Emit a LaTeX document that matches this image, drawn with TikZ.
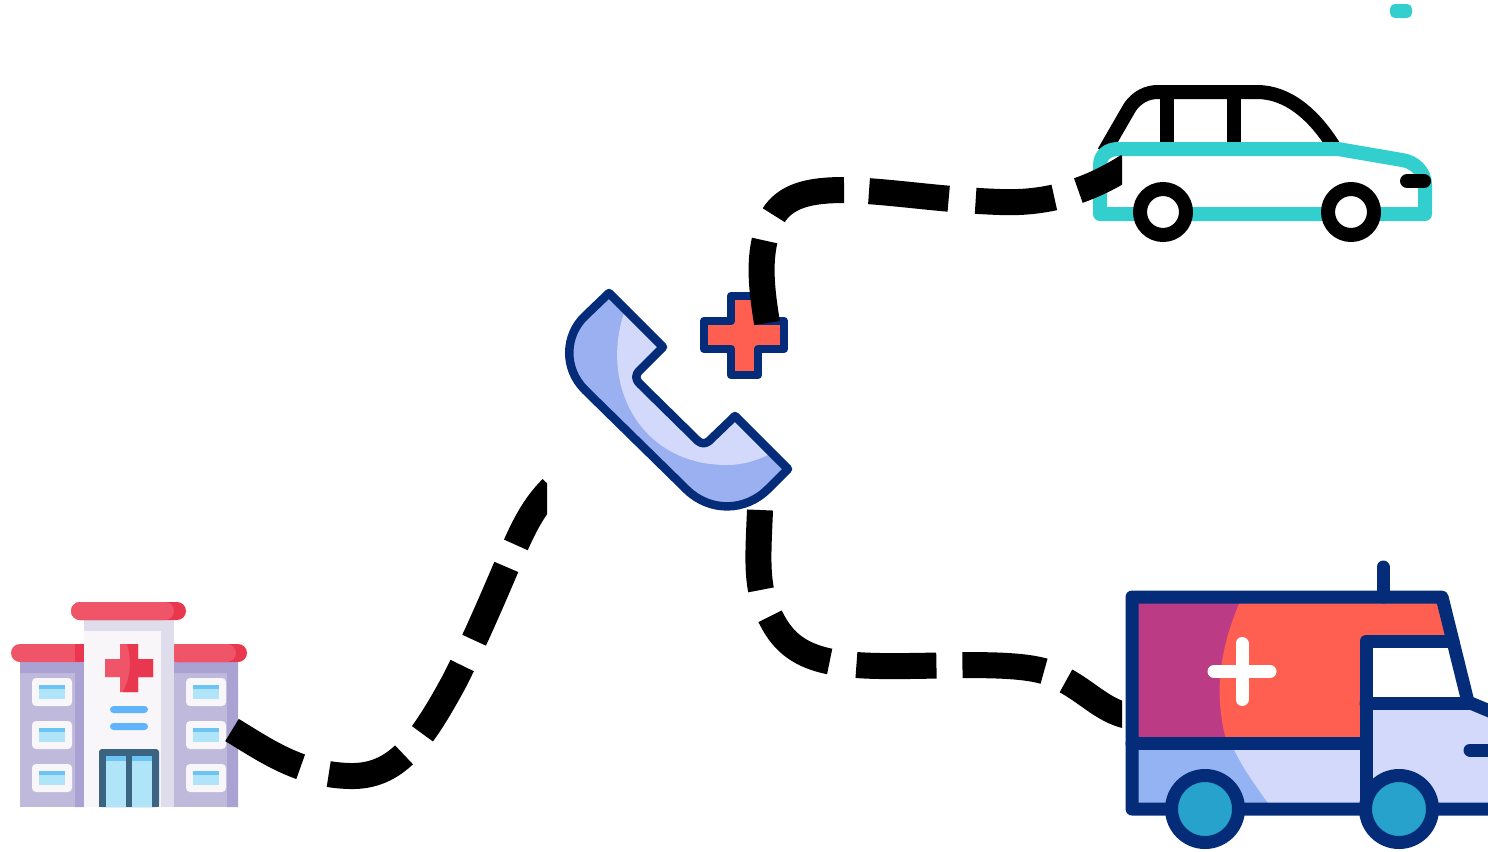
\documentclass[tikz,border=0pt]{standalone}
\definecolor{azulOscuro}{HTML}{042C78}
\definecolor{azulMedio}{HTML}{9BB0F0}
\definecolor{azulBanda}{HTML}{94B3F2}
\definecolor{azulClaro}{HTML}{D3D9FB}
\definecolor{rojoCruz}{HTML}{FF5F50}
\definecolor{magenta}{HTML}{BB3B85}
\definecolor{turquesa}{HTML}{33CFCF}
\definecolor{rueda}{HTML}{27A2CC}
\definecolor{techo}{HTML}{EF5469}
\definecolor{techoOscuro}{HTML}{E8374F}
\definecolor{muro}{HTML}{BFB9DC}
\definecolor{muroOscuro}{HTML}{A9A2D2}
\definecolor{torre}{HTML}{F8F6F8}
\definecolor{torreOscura}{HTML}{DFDCEC}
\definecolor{vidrio}{HTML}{B0E4F9}
\definecolor{vidrioOscuro}{HTML}{6CC4F5}
\definecolor{puerta}{HTML}{3B6382}
\definecolor{franja}{HTML}{60B4FE}
\tikzset{
  conector/.style={draw=black, line width=0.26cm},
  trazoAzul/.style={draw=azulOscuro, line width=0.085cm, line join=round},
  trazoCamion/.style={draw=azulOscuro, line width=0.13cm, line join=round, line cap=round},
  trazoAuto/.style={line width=0.14cm, line join=round},
  ventana/.style={fill=torre, rounded corners=0.04cm}
}
\begin{document}
\begin{tikzpicture}[x=0.01cm, y=-0.01cm]
\useasboundingbox (0,0) rectangle (1488,851);

% Hospital: muros y torre
\fill[muro] (20,662) rectangle (84,807);
\fill[muroOscuro] (20,662) rectangle (84,673) (75,662) rectangle (84,807);
\fill[muro] (174,662) rectangle (238,807);
\fill[muroOscuro] (174,662) rectangle (238,673) (227,662) rectangle (238,807);
\fill[torreOscura] (84,620) rectangle (174,807);
\fill[torre] (84,631) -- (161,631) -- (161,807) -- (84,807) -- cycle;

% Hospital: techos
\fill[techoOscuro, rounded corners=0.09cm] (71,602) rectangle (186,620);
\fill[techo, rounded corners=0.09cm] (71,602) rectangle (174,620);
\fill[techo, rounded corners=0.09cm] (11,644) rectangle (90,662);
\fill[techoOscuro] (75,644) rectangle (84,662);
\fill[torre] (84,644) rectangle (90,662);
\fill[techoOscuro, rounded corners=0.09cm] (168,644) rectangle (247,662);
\fill[techo, rounded corners=0.09cm] (168,644) rectangle (236,662);
\fill[torreOscura] (168,644) rectangle (174,662);

% Hospital: ventanas
\foreach \fila in {678,721,764} {
  \foreach \columna in {32,186} {
    \fill[ventana] (\columna,\fila) rectangle +(40,28);
    \fill[vidrio] (\columna+7,\fila+7) rectangle +(26,14);
    \fill[vidrioOscuro] (\columna+7,\fila+7) rectangle +(26,4);
  }
}

% Hospital: cruz y franjas
\fill[techo, path picture={\fill[techoOscuro] (126,640) .. controls (132,660) and (132,675) .. (121,696) -- (160,696) -- (160,640) -- cycle;}]
  (120,644) -- (138,644) -- (138,659) -- (153,659) -- (153,677) -- (138,677) -- (138,692) -- (120,692) -- (120,677) -- (105,677) -- (105,659) -- (120,659) -- cycle;
\fill[franja, rounded corners=0.035cm] (110,706) rectangle (148,713);
\fill[franja, rounded corners=0.035cm] (110,723) rectangle (148,730);

% Hospital: puerta
\fill[puerta, rounded corners=0.03cm] (99,749) -- (159,749) -- (159,807) -- (99,807) -- cycle;
\fill[puerta] (99,790) rectangle (159,807);
\foreach \hoja in {106,132} {
  \fill[vidrio] (\hoja,756) rectangle +(20,51);
  \fill[vidrioOscuro] (\hoja,756) rectangle +(20,5);
}

% Telefono
\draw[trazoAzul, fill=azulMedio, path picture={\fill[azulClaro] (624,313) .. controls (600,385) and (640,465) .. (727,465) .. controls (742,465) and (755,461) .. (768,455) -- (800,400) -- (700,280) -- cycle;}]
  (609,293) -- (663,347) -- (640,370) .. controls (635,375) and (635,379) .. (640,384) -- (698,441) .. controls (702,444) and (705,444) .. (709,441) -- (735,416) -- (788,469) -- (768,489) .. controls (745,512) and (710,512) .. (687,490) -- (585,390) .. controls (563,368) and (565,335) .. (585,316) -- cycle;

% Cruz junto al telefono
\draw[trazoAzul, fill=rojoCruz] (731,296) -- (758,296) -- (758,321) -- (784,321) -- (784,349) -- (758,349) -- (758,375) -- (731,375) -- (731,349) -- (704,349) -- (704,321) -- (731,321) -- cycle;

% Auto
\fill[turquesa, rounded corners=0.05cm] (1390,4) rectangle (1412,18);
\draw[trazoAuto, black] (1104,152) -- (1130,107) .. controls (1137,97) and (1147,92) .. (1158,92) -- (1257,92) .. controls (1288,92) and (1315,115) .. (1336,150);
\draw[trazoAuto, black] (1167,92) -- (1167,148) (1234,92) -- (1234,148);
\draw[trazoAuto, turquesa] (1100,214) -- (1100,165) .. controls (1100,155) and (1108,149) .. (1118,149) -- (1338,149) -- (1402,160) .. controls (1415,162) and (1425,172) .. (1425,185) -- (1425,214) -- cycle;
\draw[trazoAuto, black, fill=white] (1163,212) circle (23);
\draw[trazoAuto, black, fill=white] (1351,212) circle (23);
\draw[trazoAuto, black, line cap=round] (1407,181) -- (1424,181);

% Ambulancia: rellenos
\fill[magenta, path picture={\fill[rojoCruz] (1245,590) .. controls (1222,640) and (1210,690) .. (1229,750) -- (1500,750) -- (1500,590) -- cycle;}]
  (1132,597) -- (1442,597) -- (1452,641) -- (1366,641) -- (1366,743) -- (1132,743) -- cycle;
\fill[azulClaro] (1132,743) rectangle (1366,809);
\fill[azulBanda] (1132,743) -- (1231,743) .. controls (1240,765) and (1255,785) .. (1272,809) -- (1132,809) -- cycle;
\fill[azulClaro] (1366,703) -- (1468,703) -- (1492,712) -- (1492,809) -- (1366,809) -- cycle;
\fill[white] (1366,641) -- (1448,641) -- (1468,703) -- (1366,703) -- cycle;

% Ambulancia: contorno
\draw[trazoCamion] (1492,712) -- (1468,702) -- (1442,597) -- (1132,597) -- (1132,809) -- (1492,809);
\draw[trazoCamion] (1132,743) -- (1366,743);
\draw[trazoCamion] (1453,641) -- (1366,641) -- (1366,809);
\draw[trazoCamion] (1366,703) -- (1468,703);
\draw[trazoCamion] (1383,567) -- (1383,597);
\draw[trazoCamion] (1470,750) -- (1495,750);
\draw[trazoCamion, fill=rueda] (1205,809) circle (33.5);
\draw[trazoCamion, fill=rueda] (1399,809) circle (33.5);
\draw[trazoCamion, white] (1214,671.5) -- (1270,671.5) (1242,643.5) -- (1242,699.5);

% Puntos de los conectores
\coordinate (salidaHospital) at (232,730);
\coordinate (llegadaTelefono) at (552,488);
\coordinate (salidaTelefono) at (760,510);
\coordinate (llegadaAmbulancia) at (1128,716);
\coordinate (salidaCruz) at (767,323);
\coordinate (llegadaAuto) at (1128,166);

% Conectores punteados
\begin{scope}
\clip (0,0) rectangle (547,851);
\draw[conector, dash pattern=on 0.78cm off 0.29cm on 0.81cm off 0.28cm on 0.79cm off 0.28cm on 0.8cm off 0.24cm on 2cm off 0cm] (salidaHospital) .. controls (265,750) and (300,775) .. (350,776) .. controls (395,777) and (420,745) .. (455,680) .. controls (475,640) and (490,605) .. (505,570) .. controls (520,535) and (530,510) .. (llegadaTelefono);
\end{scope}
\begin{scope}
\clip (0,0) rectangle (1122,851);
\draw[conector, dash pattern=on 0.8cm off 0.28cm on 0.78cm off 0.27cm on 0.8cm off 0.26cm on 0.82cm off 0.24cm on 2cm off 0cm] (salidaTelefono) .. controls (758,560) and (755,590) .. (772,620) .. controls (790,655) and (820,665) .. (880,666) .. controls (940,667) and (1020,660) .. (1052,674) .. controls (1085,688) and (1100,710) .. (llegadaAmbulancia);
\draw[conector, dash pattern=on 0.83cm off 0.27cm on 0.78cm off 0.25cm on 0.8cm off 0.27cm on 0.79cm off 0.25cm on 2cm off 0cm] (salidaCruz) .. controls (760,280) and (758,250) .. (772,218) .. controls (785,195) and (810,190) .. (845,190) .. controls (890,191) and (940,200) .. (1000,202) .. controls (1050,204) and (1090,190) .. (llegadaAuto);
\end{scope}
\end{tikzpicture}
\end{document}
